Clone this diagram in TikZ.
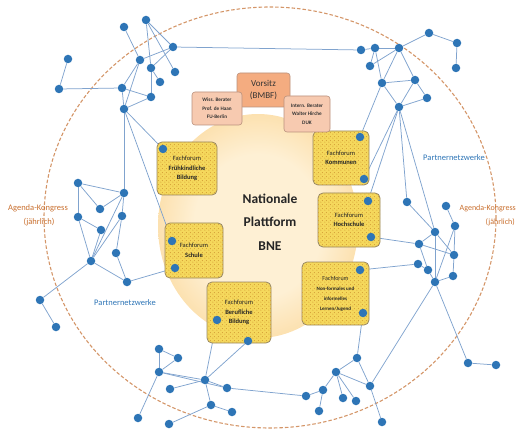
\documentclass[tikz,border=0pt]{standalone}
\usepackage{fontspec}
\setmainfont{Carlito}
\usetikzlibrary{patterns}
\definecolor{dotblue}{RGB}{46,117,182}
\definecolor{edgeblue}{RGB}{128,163,206}
\definecolor{congress}{RGB}{200,110,45}
\definecolor{ellcol}{RGB}{212,150,105}
\definecolor{ffyellow}{RGB}{245,216,92}
\definecolor{ffdot}{RGB}{214,160,55}
\definecolor{ffborder}{RGB}{150,135,100}
\definecolor{vorsitzc}{RGB}{244,172,128}
\definecolor{beraterc}{RGB}{247,202,176}
\definecolor{vborder}{RGB}{185,145,125}
\definecolor{gla}{RGB}{254,240,212}
\definecolor{glb}{RGB}{251,215,152}
\definecolor{glc}{RGB}{247,188,95}
\definecolor{gld}{RGB}{250,215,160}
\pgfdeclareradialshading{glow}{\pgfpointorigin}{color(0bp)=(gla); color(16bp)=(gla); color(31bp)=(glb); color(41bp)=(glc); color(46bp)=(glc); color(49bp)=(gld); color(50bp)=(white)}
\pgfdeclarepatternformonly{hexdots}{\pgfpointorigin}{\pgfpoint{4pt}{4pt}}{\pgfpoint{4pt}{4pt}}{%
  \pgfpathcircle{\pgfpoint{1pt}{1pt}}{0.65pt}%
  \pgfpathcircle{\pgfpoint{3pt}{3pt}}{0.65pt}%
  \pgfusepath{fill}}
\pgfdeclarelayer{bg}
\pgfdeclarelayer{edges}
\pgfsetlayers{bg,edges,main}
\begin{document}
\begin{tikzpicture}[x=1pt,y=-1pt,
  dot/.style={circle, fill=dotblue, inner sep=0pt, minimum size=8.5pt},
  link/.style={draw=edgeblue, line width=0.75pt},
  forum/.style={draw=ffborder, line width=0.8pt, rounded corners=5pt, fill=ffyellow,
    postaction={pattern=hexdots, pattern color=ffdot}, align=center, inner sep=1pt,
    font=\fontsize{6.5}{9.5}\selectfont, text=black!85},
  chair/.style={draw=vborder, line width=0.6pt, rounded corners=3pt, align=center, inner sep=1pt, text=black!80},
  lbl/.style={inner sep=0pt, font=\fontsize{8.5}{10}\selectfont}
]
\useasboundingbox (0,0) rectangle (518,435);
\clip (0,0) rectangle (518,435);

\begin{pgfonlayer}{bg}
  \shade[shading=glow] (258,226) ellipse [x radius=100, y radius=112];
  \draw[ellcol, line width=1.1pt, dash pattern=on 3.5pt off 2pt] (270,217.5) ellipse [x radius=226, y radius=210.5];
\end{pgfonlayer}

% Forum boxes
\node[forum, minimum width=60pt, minimum height=53pt] (ff1) at (187,168.5) {Fachforum\\\textbf{Frühkindliche}\\\textbf{Bildung}};
\node[forum, minimum width=56pt, minimum height=54pt] (ff2) at (341,158) {Fachforum\\\textbf{Kommunen}};
\node[forum, minimum width=62pt, minimum height=54pt] (ff3) at (349,220) {Fachforum\\\textbf{Hochschule}};
\node[forum, minimum width=58pt, minimum height=55pt] (ff4) at (194,250.5) {Fachforum\\\textbf{Schule}};
\node[forum, minimum width=64pt, minimum height=61pt] (ff5) at (239,312.5) {Fachforum\\\textbf{Berufliche}\\\textbf{Bildung}};
\node[forum, minimum width=67pt, minimum height=63pt, font=\fontsize{5}{10}\selectfont] (ff6) at (335.5,293.5) {{\fontsize{6}{10}\selectfont Fachforum}\\\textbf{Non-formales und}\\\textbf{informelles}\\\textbf{Lernen/Jugend}};

% Chair boxes
\node[chair, fill=vorsitzc, minimum width=53pt, minimum height=34pt, font=\fontsize{9}{12.5}\selectfont] (vor) at (263.5,90) {Vorsitz\\(BMBF)};
\node[chair, fill=beraterc, minimum width=50pt, minimum height=33pt, font=\bfseries\fontsize{5.2}{8.5}\selectfont] (wiss) at (217,108.5) {Wiss. Berater\\Prof. de Haan\\FU-Berlin};
\node[chair, fill=beraterc, minimum width=46pt, minimum height=36pt, font=\bfseries\fontsize{5.2}{8.5}\selectfont] (intl) at (307,114) {Intern. Berater\\Walter Hirche\\DUK};

% Centre title
\node[align=center, inner sep=0pt, font=\bfseries\fontsize{13.5}{23.5}\selectfont, text=black!85] (npb) at (270,222) {Nationale\\Plattform\\BNE};

% Labels
\node[lbl, text=congress] (ak1) at (38,208) {Agenda-Kongress};
\node[lbl, text=congress] (aj1) at (39,222) {(jährlich)};
\node[lbl, text=congress, anchor=east, font=\fontsize{8}{10}\selectfont] (ak2) at (516,208) {Agenda-Kongress};
\node[lbl, text=congress, anchor=east, font=\fontsize{8}{10}\selectfont] (aj2) at (515,222) {(jährlich)};
\node[lbl, text=dotblue] (pn1) at (125,303) {Partnernetzwerke};
\node[lbl, text=dotblue] (pn2) at (454,158) {Partnernetzwerke};

% Dots: top-left cluster
\node[dot] (a1) at (124,27) {};
\node[dot] (a2) at (146,20) {};
\node[dot] (a3) at (173,47) {};
\node[dot] (a4) at (68,59) {};
\node[dot] (a5) at (140,60) {};
\node[dot] (a6) at (151,68) {};
\node[dot] (a7) at (175,72) {};
\node[dot] (a8) at (160,82) {};
\node[dot] (a9) at (59,89) {};
\node[dot] (a10) at (122,88) {};
\node[dot] (a11) at (151,97) {};
\node[dot] (a12) at (124,109) {};
% left cluster
\node[dot] (b1) at (78,183) {};
\node[dot] (b2) at (124,193) {};
\node[dot] (b3) at (100,209) {};
\node[dot] (b4) at (78,217) {};
\node[dot] (b5) at (122,216) {};
\node[dot] (b6) at (101,230) {};
\node[dot] (b7) at (116,253) {};
\node[dot] (b8) at (91,261) {};
\node[dot] (b9) at (127,282) {};
\node[dot] (b10) at (40,300) {};
\node[dot] (b11) at (56,327) {};
% bottom-left cluster
\node[dot] (d1) at (159,349) {};
\node[dot] (d2) at (178,358) {};
\node[dot] (d3) at (159,372) {};
\node[dot] (d4) at (205,380) {};
\node[dot] (d5) at (227,388) {};
\node[dot] (d6) at (170,389) {};
\node[dot] (d7) at (211,405) {};
\node[dot] (d8) at (232,412) {};
\node[dot] (d9) at (138,418) {};
\node[dot] (d10) at (169,424) {};
% bottom-right cluster
\node[dot] (e1) at (357,358) {};
\node[dot] (e2) at (336,372) {};
\node[dot] (e3) at (370,386) {};
\node[dot] (e4) at (323,390) {};
\node[dot] (e5) at (306,396) {};
\node[dot] (e6) at (343,398) {};
\node[dot] (e7) at (356,401) {};
\node[dot] (e8) at (319,411) {};
\node[dot] (e9) at (382,422) {};
% right cluster
\node[dot] (r1) at (435,232) {};
\node[dot] (r2) at (455,226) {};
\node[dot] (r3) at (419,244) {};
\node[dot] (r4) at (454,255) {};
\node[dot] (r5) at (418,264) {};
\node[dot] (r6) at (428,270) {};
\node[dot] (r7) at (453,276) {};
\node[dot] (r8) at (435,282) {};
\node[dot] (r9) at (446,206) {};
\node[dot] (r10) at (407,202) {};
\node[dot] (r11) at (468,363) {};
\node[dot] (r12) at (496,365) {};
% top-right cluster
\node[dot] (t1) at (361,50) {};
\node[dot] (t2) at (375,48) {};
\node[dot] (t3) at (399,48) {};
\node[dot] (t4) at (370,66) {};
\node[dot] (t5) at (382,83) {};
\node[dot] (t6) at (415,80) {};
\node[dot] (t7) at (427,98) {};
\node[dot] (t8) at (399,107) {};
\node[dot] (t9) at (429,33) {};
\node[dot] (t10) at (457,43) {};
\node[dot] (t11) at (456,68) {};
% dots on forum boxes
\node[dot] (f1) at (163,149) {};
\node[dot] (k1) at (360,137) {};
\node[dot] (k2) at (364,179) {};
\node[dot] (h1) at (368,201) {};
\node[dot] (h2) at (371,237) {};
\node[dot] (s1) at (172,241) {};
\node[dot] (s2) at (175,268) {};
\node[dot] (be1) at (217,320) {};
\node[dot] (be2) at (248,341) {};
\node[dot] (n1) at (360,270) {};
\node[dot] (n2) at (363,313) {};

\begin{pgfonlayer}{edges}
  % top-left
  \draw[link] (a1) -- (a5);
  \draw[link] (a2) -- (a3);
  \draw[link] (a2) -- (a6);
  \draw[link] (a2) -- (a7);
  \draw[link] (a3) -- (a5);
  \draw[link] (a3) -- (a6);
  \draw[link] (a6) -- (a8);
  \draw[link] (a5) -- (a10);
  \draw[link] (a5) -- (a12);
  \draw[link] (a6) -- (a11);
  \draw[link] (a10) -- (a11);
  \draw[link] (a11) -- (a12);
  \draw[link] (a10) -- (a12);
  \draw[link] (a4) -- (a9);
  \draw[link] (a9) -- (a10);
  \draw[link] (a12) -- (f1);
  \draw[link] (a12) -- (b2);
  \draw[link] (a12) -- (s1);
  \draw[link] (a3) -- (t1);
  % left
  \draw[link] (b1) -- (b2);
  \draw[link] (b1) -- (b3);
  \draw[link] (b1) -- (b4);
  \draw[link] (b2) -- (b3);
  \draw[link] (b2) -- (b5);
  \draw[link] (b2) -- (b8);
  \draw[link] (b5) -- (b7);
  \draw[link] (b5) -- (b8);
  \draw[link] (b4) -- (b6);
  \draw[link] (b4) -- (b8);
  \draw[link] (b6) -- (b8);
  \draw[link] (b7) -- (b9);
  \draw[link] (b8) -- (b9);
  \draw[link] (b8) -- (b10);
  \draw[link] (b10) -- (b11);
  \draw[link] (b9) -- (s2);
  % bottom-left
  \draw[link] (d1) -- (d2);
  \draw[link] (d1) -- (d3);
  \draw[link] (d3) -- (d2);
  \draw[link] (d3) -- (d4);
  \draw[link] (d3) -- (d5);
  \draw[link] (d3) -- (d9);
  \draw[link] (d4) -- (d6);
  \draw[link] (d4) -- (d7);
  \draw[link] (d4) -- (d5);
  \draw[link] (d7) -- (d8);
  \draw[link] (d7) -- (d10);
  \draw[link] (d4) -- (be1);
  \draw[link] (d4) -- (be2);
  \draw[link] (d5) -- (e5);
  % bottom-right
  \draw[link] (e1) -- (n2);
  \draw[link] (e1) -- (e2);
  \draw[link] (e1) -- (e3);
  \draw[link] (e2) -- (e4);
  \draw[link] (e2) -- (e3);
  \draw[link] (e2) -- (e6);
  \draw[link] (e2) -- (e7);
  \draw[link] (e3) -- (e9);
  \draw[link] (e3) -- (r8);
  \draw[link] (e4) -- (e5);
  \draw[link] (e4) -- (e8);
  % right
  \draw[link] (h2) -- (r3);
  \draw[link] (n1) -- (r5);
  \draw[link] (r1) -- (r3);
  \draw[link] (r1) -- (r4);
  \draw[link] (r1) -- (r8);
  \draw[link] (r2) -- (r4);
  \draw[link] (r2) -- (r8);
  \draw[link] (r3) -- (r4);
  \draw[link] (r3) -- (r6);
  \draw[link] (r5) -- (r6);
  \draw[link] (r6) -- (r8);
  \draw[link] (r4) -- (r7);
  \draw[link] (r7) -- (r8);
  \draw[link] (r8) -- (r11);
  \draw[link] (r11) -- (r12);
  \draw[link] (r10) -- (r1);
  \draw[link] (r9) -- (r2);
  % top-right
  \draw[link] (t1) -- (t2);
  \draw[link] (t2) -- (t3);
  \draw[link] (t2) -- (t4);
  \draw[link] (t2) -- (t5);
  \draw[link] (t3) -- (t4);
  \draw[link] (t3) -- (t5);
  \draw[link] (t3) -- (t6);
  \draw[link] (t3) -- (t9);
  \draw[link] (t9) -- (t10);
  \draw[link] (t10) -- (t11);
  \draw[link] (t5) -- (t6);
  \draw[link] (t6) -- (t7);
  \draw[link] (t6) -- (t8);
  \draw[link] (t7) -- (t8);
  \draw[link] (t5) -- (t8);
  \draw[link] (t5) -- (k1);
  \draw[link] (t8) -- (k2);
  \draw[link] (t8) -- (h1);
  \draw[link] (t8) -- (r10);
  \draw[link] (t8) -- (r1);
\end{pgfonlayer}
\end{tikzpicture}
\end{document}
